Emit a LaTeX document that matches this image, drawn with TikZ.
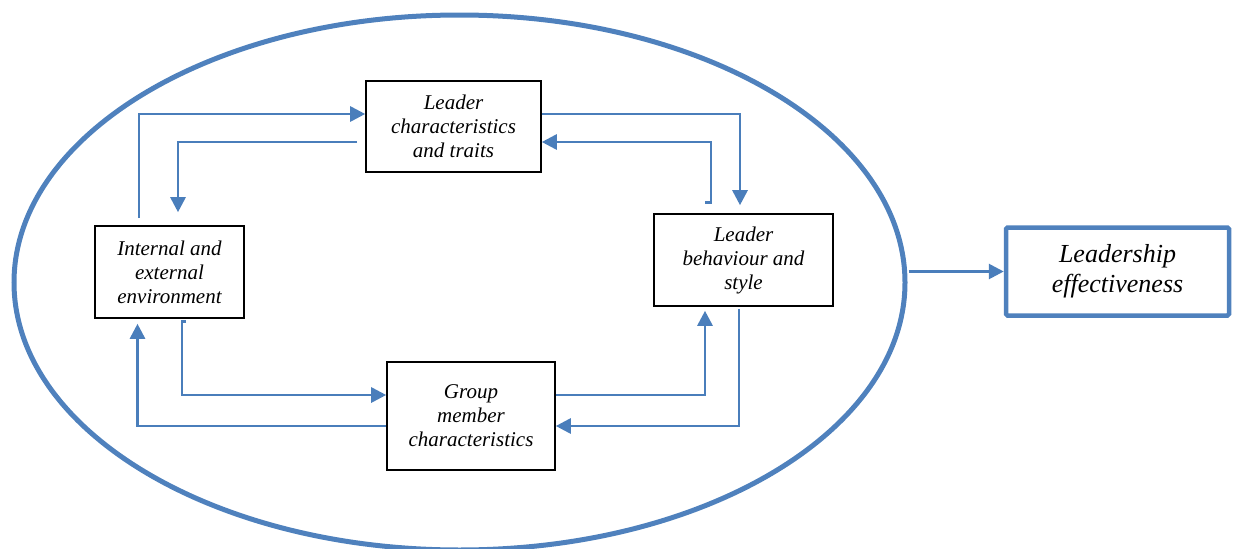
\documentclass[tikz,border=0pt]{standalone}
\usepackage{fontspec}
\setmainfont{Liberation Serif}
\usetikzlibrary{shapes.geometric,arrows.meta,calc}
\definecolor{ringblue}{HTML}{4F81BD}
\definecolor{linkblue}{HTML}{4A7EBB}
\begin{document}
\begin{tikzpicture}[x=1pt,y=-1pt,
  factor/.style={draw=black,line width=1.6pt,inner sep=2pt,align=center,
    font=\fontsize{21}{24}\selectfont\itshape},
  outcome/.style={draw=ringblue,line width=4.5pt,rounded corners=1.5pt,align=center,
    inner sep=2pt,font=\fontsize{26}{30}\selectfont\itshape},
  link/.style={draw=linkblue,line width=2.8pt,
    -{Triangle[length=15pt,width=15pt]}}]
\useasboundingbox (0,0) rectangle (1235,549);

% outer ellipse
\node[ellipse,draw=ringblue,line width=5pt,minimum width=891pt,minimum height=535pt,
  inner sep=0pt] (ring) at (459.5,282.5) {};

% the four factors
\node[factor,minimum width=175pt,minimum height=91pt] (lct) at (453.5,126.5)
  {Leader\\characteristics\\and traits};
\node[factor,minimum width=149pt,minimum height=92pt] (env) at (169.5,272)
  {Internal and\\external\\environment};
\node[factor,minimum width=179pt,minimum height=92pt] (lbs) at (743.5,260)
  {Leader\\behaviour and\\style};
\node[factor,minimum width=168pt,minimum height=108pt] (gmc) at (471,416)
  {Group\\member\\characteristics};

% outcome
\node[outcome,minimum width=223pt,minimum height=88pt] (eff) at (1117.5,271.5)
  {Leadership\\effectiveness};

% links between the factors
\draw[link] ($(env.north)+(-30.5,-7)$) |- ($(lct.west)+(0,-12.5)$);
\draw[link] ($(lct.west)+(-8,15.5)$) -| ($(env.north)+(8.5,-13)$);
\draw[link] ($(lct.east)+(0,-12.5)$) -| ($(lbs.north)+(-3.5,-8)$);
\draw[link] ($(lbs.north)+(-38.5,-11)$) -- ($(lbs.north)+(-32.5,-11)$)
  |- ($(lct.east)+(0,15.5)$);
\draw[link] ($(lbs.south)+(-4.5,2)$) |- ($(gmc.east)+(0,10)$);
\draw[link] ($(gmc.east)+(0,-21)$) -| ($(lbs.south)+(-38.5,4)$);
\draw[link] ($(env.south)+(16.5,3)$) -- ($(env.south)+(12.5,3)$)
  |- ($(gmc.west)+(0,-21)$);
\draw[link] ($(gmc.west)+(0,10)$) -| ($(env.south)+(-32,5)$);

% from the ellipse to the outcome
\draw[link] ($(ring.east)+(1,-11)$) -- (eff.west);
\end{tikzpicture}
\end{document}
